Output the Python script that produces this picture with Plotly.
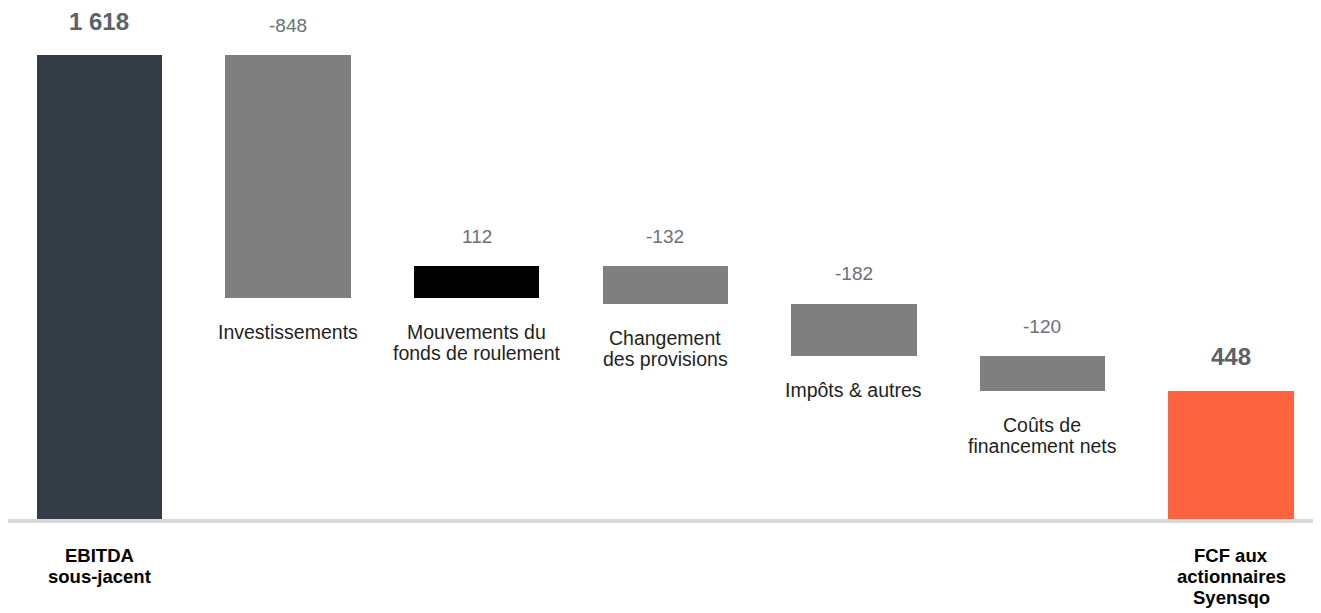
import plotly.graph_objects as go

# ---- data ----
categories = ["EBITDA\nsous-jacent", "Investissements", "Mouvements du\nfonds de roulement",
              "Changement\ndes provisions", "Impôts & autres", "Coûts de\nfinancement nets",
              "FCF aux\nactionnaires\nSyensqo"]
values = [1618, -848, 112, -132, -182, -120, 448]
measures = ["total", "relative", "relative", "relative", "relative", "relative", "total"]

# ---- styles ----
C_TOTAL_FIRST = "#343c46"
C_TOTAL_LAST = "#ff6441"
C_DEC = "#7f7f7f"
C_INC = "#000000"
FONT = "Liberation Sans, Arial, sans-serif"

bases, heights, colors = [], [], []
running = 0
for i, (v, m) in enumerate(zip(values, measures)):
    if m == "total":
        bases.append(0)
        heights.append(v)
        running = v
        colors.append(C_TOTAL_FIRST if i == 0 else C_TOTAL_LAST)
    else:
        bases.append(running if v >= 0 else running + v)
        heights.append(abs(v))
        running += v
        colors.append(C_INC if v >= 0 else C_DEC)

xs = list(range(len(categories)))

fig = go.Figure()
fig.add_trace(go.Bar(
    x=xs, y=heights, base=bases, width=0.665,
    marker=dict(color=colors, line=dict(width=0)),
    hoverinfo="skip", showlegend=False,
))

annotations = []
LINE = 21
for i, (cat, v, m) in enumerate(zip(categories, values, measures)):
    top = bases[i] + heights[i]
    bottom = bases[i]
    if m == "total":
        txt = f"{v:,}".replace(",", " ")
        annotations.append(dict(x=i, y=top, text=f"<b>{txt}</b>", showarrow=False,
                                yshift=34, yanchor="middle",
                                font=dict(family=FONT, size=24, color="#5b626b")))
        for j, line in enumerate(cat.split("\n")):
            annotations.append(dict(x=i, y=0, text=f"<b>{line}</b>", showarrow=False,
                                    yshift=-(36 + j * LINE), yanchor="middle",
                                    font=dict(family=FONT, size=18.5, color="#000000")))
    else:
        annotations.append(dict(x=i, y=top, text=f"{v}", showarrow=False,
                                yshift=30, yanchor="middle",
                                font=dict(family=FONT, size=19, color="#6b717a")))
        for j, line in enumerate(cat.split("\n")):
            annotations.append(dict(x=i, y=bottom, text=line, showarrow=False,
                                    yshift=-(34 + j * LINE), yanchor="middle",
                                    font=dict(family=FONT, size=19.5, color="#1f1f1f")))

fig.update_layout(
    width=1313, height=605,
    margin=dict(l=0, r=0, t=0, b=94),
    plot_bgcolor="white", paper_bgcolor="white",
    xaxis=dict(range=[-0.485, 6.477], showticklabels=False, showgrid=False, zeroline=False,
               showline=True, linecolor="#d9d9d9", linewidth=4, ticks=""),
    yaxis=dict(range=[0, 1782], visible=False, showgrid=False, zeroline=False),
    annotations=annotations,
    bargap=0,
)

fig.write_html("out.html", config={"displayModeBar": False})
